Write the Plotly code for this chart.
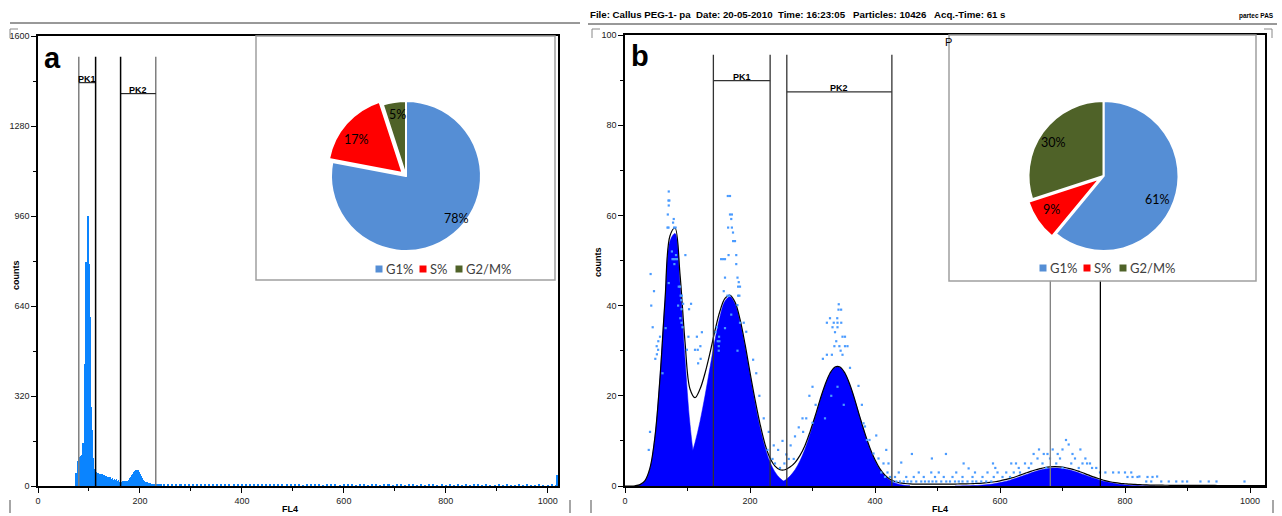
import plotly.graph_objects as go

W, H = 1282, 516

# ---------------- Panel a : histogram (FL4 channels) ----------------
a_core_start = 70      # first bin centre
a_core_width = 2       # channel bin width
a_core_counts = [0, 0, 45, 0, 90, 95, 102, 108, 110, 152, 122, 434, 796, 0, 960, 789, 601, 281, 199, 100,
                 60, 57, 50, 44, 48, 40, 43, 36, 41, 34, 38, 31, 36, 29, 33, 27, 31, 25, 29, 22,
                 26, 20, 24, 18, 22, 16, 20, 14, 18, 13, 17, 15, 19, 16, 23, 27, 33, 38, 44, 50,
                 54, 57, 53, 56, 49, 44, 37, 30, 23, 18, 14, 11, 13, 9, 8, 10, 7, 6, 8, 5,
                 7, 4, 6, 4, 5, 3, 5]
a_tail_start = 248
a_tail_width = 8
a_tail_counts = [7, 8, 6, 7, 8, 6, 7, 5, 7, 6, 8, 5, 6, 7, 5, 6, 5, 7, 4, 6,
                 5, 6, 4, 5, 6, 4, 5, 5, 4, 6, 4, 5, 4, 5, 3, 5, 4, 4, 5, 3,
                 4, 5, 4, 3, 5, 4, 4, 3, 4, 5, 3, 4, 4, 3, 5, 4, 3, 4, 4, 3,
                 4, 5, 3, 4, 3, 4, 4, 3, 4, 3, 5, 3, 4, 3, 4, 3, 4, 4, 3, 4,
                 3, 3, 4, 3, 4, 3, 3, 4, 3, 4, 3, 3, 4, 3, 3, 4, 3]
a_edge_channel = [1019]
a_edge_count = [40]

a_y_ticks = [0, 320, 640, 960, 1280, 1600]
x_ticks = [0, 200, 400, 600, 800, 1000]

# gates (left, right, bar level, label)
a_gates = [(80, 113, 1434, "PK1"), (162, 231, 1395, "PK2")]
a_gate_top = 1526

# ---------------- Panel b : fitted DNA histogram ----------------
b_step = 8
g1_start, g1_fill = 16, [0.04, 0.2, 1.1, 3.9, 11.0, 24.1, 41.0, 54.3, 56.0, 45.0, 28.2, 13.7, 5.2, 1.5, 0.35, 0.07]
pk1_start, pk1_fill = 64, [0.24, 0.51, 1.04, 2.0, 3.6, 6.0, 9.6, 14.3, 20.0, 26.3, 32.4, 37.6, 41.0, 42.0,
                           40.4, 36.5, 31.0, 24.7, 18.5, 13.0, 8.6, 5.3, 3.1, 1.7, 0.88, 0.43, 0.2, 0.08]
pk2_start, pk2_fill = 232, [0.17, 0.35, 0.68, 1.25, 2.2, 3.6, 5.6, 8.2, 11.5, 15.1, 18.9, 22.3, 24.9, 26.3,
                            26.3, 24.9, 22.3, 18.9, 15.1, 11.5, 8.2, 5.6, 3.6, 2.2, 1.25, 0.68, 0.35, 0.17, 0.08]
g2_start, g2_fill = 528, [0.015, 0.027, 0.044, 0.073, 0.11, 0.18, 0.26, 0.38, 0.54, 0.75, 1.0, 1.3, 1.64,
                          2.03, 2.43, 2.83, 3.2, 3.53, 3.78, 3.94, 4.0, 3.94, 3.78, 3.53, 3.2, 2.83, 2.43,
                          2.03, 1.64, 1.3, 1.0, 0.75, 0.54, 0.38, 0.26, 0.18, 0.11, 0.073, 0.044, 0.027, 0.015]
fit_start, fit_curve = 0, [0, 0, 0.05, 0.3, 1.2, 4.0, 11.0, 24.0, 41.2, 55.5, 57.2, 47.0, 32.0, 21.5, 19.6,
                           21.5, 25.0, 29.5, 34.5, 38.8, 41.6, 42.3, 40.8, 37.0, 31.5, 25.2, 19.2, 13.8, 9.3,
                           6.2, 4.4, 3.6, 3.6, 4.2, 5.2, 6.8, 9.0, 12.0, 15.4, 19.1, 22.4, 25.0, 26.4, 26.4,
                           25.0, 22.4, 19.0, 15.2, 11.6, 8.4, 5.8, 3.8, 2.4, 1.5, 1.0, 0.7, 0.55, 0.45, 0.4,
                           0.4, 0.4, 0.4, 0.4, 0.4, 0.4, 0.42, 0.43, 0.45, 0.47, 0.5, 0.55, 0.6, 0.68, 0.8,
                           0.95, 1.15, 1.4, 1.7, 2.0, 2.4, 2.8, 3.2, 3.55, 3.85, 4.1, 4.25, 4.3, 4.25, 4.1,
                           3.85, 3.55, 3.15, 2.75, 2.3, 1.9, 1.55, 1.2, 0.95, 0.75, 0.6, 0.5, 0.4, 0.35, 0.3,
                           0.25, 0.2, 0.2, 0.18, 0.17, 0.16, 0.15, 0.15, 0.14, 0.14, 0.13, 0.13, 0.12, 0.12,
                           0.12, 0.11, 0.11, 0.11, 0.1, 0.1, 0.1, 0.1, 0.1, 0.1, 0.1]

# raw channel counts (scattered dots)
dots_x = [70, 69.5, 71, 70, 68.5, 78, 76.9, 68, 69.6, 78.5, 81, 76, 78, 80.5, 83, 81.6, 96.6, 79,
          46.4, 44.3, 41, 42, 86, 88, 89, 91, 90, 93, 105.7, 102.5, 90.5, 88.5, 90.5, 92,
          53, 51, 48.5, 56, 53.3, 50.7, 101.5, 115, 123, 120.6, 116.4, 99, 112, 121, 117, 40, 38,
          60, 65, 70, 75, 85, 150, 160, 170, 180, 330, 340, 350, 320,
          164.5, 168, 168, 171, 170, 165, 171, 172.8, 173, 176, 153.8, 157, 160, 165.7, 178, 178,
          160, 180, 182, 181, 184, 181, 183, 164, 167, 158, 179.9, 184, 194, 150.5, 148.4, 151, 150,
          190, 147, 145,
          205, 210, 215, 222, 230, 238, 245, 252, 258, 265, 272, 278, 284, 262, 240, 248, 255, 270, 228, 236,
          342, 341.6, 345.8, 328, 339.6, 323, 334, 340, 346, 332, 340, 336, 338, 348, 352, 335, 343, 352, 356, 345,
          316.6, 323, 331, 348, 360, 373.6, 379, 381.6, 384, 387, 391.2, 402, 397.6, 405.6, 418, 421.6, 413.6,
          442, 459, 491, 513.5, 541.8, 549.8, 588.8, 592.5, 618, 625.6, 653.8, 662.4, 684.3, 692.3, 705.6,
          709.9, 728.6, 736.6, 739.3, 747.3, 768.6, 781, 823, 851.4, 899.4, 920.7, 934, 946.4, 991.2,
          295, 300, 305, 290, 285, 300,
          630, 640, 646, 660, 668, 674, 680, 690, 696, 700, 714, 720, 726, 732, 744, 754, 760, 670, 676, 700, 716, 650,
          428, 434, 440, 446, 452, 458, 466, 474, 480, 486, 492, 498, 506, 514, 520, 528, 534, 540, 548, 556,
          562, 570, 578, 586, 834, 842, 858, 870, 882, 892,
          416, 424, 432, 450, 462, 478, 496, 510, 524, 540, 556, 572, 590, 604, 616, 804, 812, 820, 836, 844,
          410, 420, 438, 470, 490, 502, 530, 560, 580, 596, 610, 622, 632, 790, 800, 810]
dots_y = [65.3, 63.3, 63.3, 62.2, 60.2, 59.2, 58.4, 57.3, 57.3, 57.3, 57.3, 50.3, 50.3, 50.3, 50.3, 51.2, 51.2, 49.2,
          43.2, 35.2, 47, 40, 44.2, 44.2, 42.2, 42.2, 41.2, 40.4, 40.4, 39.2, 39.2, 37.2, 36.2, 35.2,
          30.2, 29.2, 28.2, 33.1, 32.1, 31.0, 33.1, 33.1, 34.1, 31.0, 30.2, 30.2, 30.2, 28.2, 27.2, 12, 8,
          25, 35, 45, 52, 40, 30, 35, 38, 30, 20, 22, 18, 15,
          64.3, 64.3, 60.2, 60.2, 59.2, 57.3, 57.3, 56.2, 54.3, 54.3, 50.3, 50.3, 50.3, 51.2, 51.2, 49.2,
          46.2, 46.2, 45.2, 44.2, 44.2, 42.2, 42.2, 42.2, 42.2, 43.2, 40.1, 36.2, 34.2, 33.1, 32.1, 32.1, 31.0,
          36.2, 35.2, 34.1,
          28, 25, 20, 15, 12, 9, 8, 10, 7, 9, 11, 13, 15, 6, 5, 4, 5, 6, 8, 6,
          40.3, 39.1, 39.1, 37.2, 37.2, 36.2, 36.2, 36.2, 36.2, 35.2, 35.2, 34.1, 32.1, 33.1, 33.1, 31, 31, 31, 31, 30,
          28.2, 29.1, 29.1, 29.1, 26.2, 22.2, 18.0, 13.9, 13.2, 10.2, 10.2, 11.2, 7.2, 6.1, 8.0, 5.0, 5.0,
          5.2, 7.1, 6.1, 7.1, 5.0, 3.9, 5.0, 4.0, 5.0, 5.0, 7.1, 8.1, 8.1, 7.1, 10.2,
          9.2, 8.1, 6.1, 5.0, 4.0, 3.0, 3.0, 2.1, 2.1, 1.0, 1.0, 1.0, 1.0, 1.0,
          20, 22, 18, 15, 12, 14,
          4.0, 5.0, 4.0, 6.1, 5.0, 4.0, 6.1, 5.0, 6.1, 4.0, 5.0, 6.1, 4.0, 5.0, 5.0, 4.0, 3.0, 7.1, 7.1, 8.1, 7.1, 5.0,
          1, 1, 1, 1, 1, 1, 1, 1, 1, 1, 1, 1, 1, 1, 1, 1, 1, 1, 1, 1,
          1, 1, 1, 1, 1, 1, 1, 1, 1, 1,
          2, 2, 2, 2, 2, 2, 2, 2, 2, 2, 2, 2, 2, 2, 2, 2, 2, 2, 2, 2,
          3, 3, 3, 3, 3, 3, 3, 3, 3, 3, 3, 3, 3, 3, 3, 3]

b_y_ticks = [0, 20, 40, 60, 80, 100]
b_gates = [(141.4, 232.2, 89.9, "PK1"), (258.9, 427.0, 87.4, "PK2")]
b_gate_top = 95.6
b_gate3 = [680.5, 760.6]
b_gate3_top = 45.5

# ---------------- Pie insets ----------------
pie_labels = ["G1%", "S%", "G2/M%"]
pie_colors = ["#558ED5", "#FF0000", "#4F6228"]
pie_a = [78, 17, 5]
pie_b = [61, 9, 30]

header_text = "File: Callus PEG-1- pa  Date: 20-05-2010  Time: 16:23:05   Particles: 10426   Acq.-Time: 61 s"

# ---------------- helpers ----------------
def fx(p):
    return p / W

def fy(p):
    return 1 - p / H

NARROW = "Liberation Sans, Arial, sans-serif"
CAL = "Lato, Carlito, Calibri, Open Sans, sans-serif"

fig = go.Figure()

# panel a bars
ax_core = [a_core_start + a_core_width * i for i in range(len(a_core_counts))]
ax_tail = [a_tail_start + a_tail_width * i for i in range(len(a_tail_counts))]
fig.add_trace(go.Bar(x=ax_core, y=a_core_counts, width=1.6, marker=dict(color="#0A84FF", line=dict(width=0)),
                     xaxis="x", yaxis="y", hoverinfo="skip", showlegend=False))
fig.add_trace(go.Bar(x=ax_tail, y=a_tail_counts, width=3, marker=dict(color="#0A84FF", line=dict(width=0)),
                     xaxis="x", yaxis="y", hoverinfo="skip", showlegend=False))
fig.add_trace(go.Bar(x=a_edge_channel, y=a_edge_count, width=2.5, marker=dict(color="#0A84FF", line=dict(width=0)),
                     xaxis="x", yaxis="y", hoverinfo="skip", showlegend=False))

# panel b fills
def comp(start, vals):
    return [start + b_step * i for i in range(len(vals))], vals

for st, vals in [(g1_start, g1_fill), (pk1_start, pk1_fill), (pk2_start, pk2_fill), (g2_start, g2_fill)]:
    xs, ys = comp(st, vals)
    fig.add_trace(go.Scatter(x=xs, y=ys, mode="lines", fill="tozeroy", fillcolor="#0000FF",
                             line=dict(color="#0000FF", width=0.5, shape="spline"),
                             xaxis="x2", yaxis="y2", hoverinfo="skip", showlegend=False))

fxs, fys = comp(fit_start, fit_curve)
fig.add_trace(go.Scatter(x=fxs, y=fys, mode="lines", line=dict(color="black", width=1.2, shape="spline"),
                         xaxis="x2", yaxis="y2", hoverinfo="skip", showlegend=False))
fig.add_trace(go.Scatter(x=dots_x, y=dots_y, mode="markers",
                         marker=dict(symbol="square", size=2.2, color="#4A9BFF", line=dict(width=0)),
                         xaxis="x2", yaxis="y2", hoverinfo="skip", showlegend=False))

# pies
def pie_domain(cx, cy, side):
    return dict(x=[fx(cx - side / 2), fx(cx + side / 2)], y=[fy(cy + side / 2), fy(cy - side / 2)])

for vals, (cx, cy) in [(pie_a, (406, 176)), (pie_b, (1103.5, 176))]:
    fig.add_trace(go.Pie(values=vals, labels=pie_labels, sort=False, direction="clockwise", rotation=0,
                         marker=dict(colors=pie_colors, line=dict(color="white", width=2)),
                         pull=[0, 0.06, 0], textinfo="none", hoverinfo="skip", showlegend=False,
                         domain=pie_domain(cx, cy, 159)))

tickfont = dict(family=NARROW, size=9, color="#222")
common_x = dict(showline=True, mirror=True, linecolor="black", linewidth=1.5, ticks="outside", ticklen=5,
                tickwidth=1, tickcolor="black", showgrid=False, zeroline=False, tickfont=tickfont,
                automargin=False,
                tickvals=x_ticks, minor=dict(tickvals=[100, 300, 500, 700, 900], ticks="outside", ticklen=3,
                                             tickcolor="black"))
common_y = dict(showline=True, mirror=True, linecolor="black", linewidth=1.5, ticks="outside", ticklen=5,
                tickwidth=1, tickcolor="black", showgrid=False, zeroline=False, tickfont=tickfont,
                automargin=False)
fig.update_layout(
    width=W, height=H, margin=dict(l=0, r=0, t=0, b=0, pad=0, autoexpand=False),
    paper_bgcolor="white", plot_bgcolor="white", bargap=0,
    xaxis=dict(domain=[fx(38), fx(558)], range=[0, 1020], anchor="y", **common_x),
    yaxis=dict(domain=[fy(486), fy(36)], range=[0, 1600], anchor="x", tickvals=a_y_ticks,
               minor=dict(tickvals=[160, 480, 800, 1120, 1440], ticks="outside", ticklen=3, tickcolor="black"),
               **common_y),
    xaxis2=dict(domain=[fx(625), fx(1265)], range=[0, 1024], anchor="y2", **common_x),
    yaxis2=dict(domain=[fy(486), fy(35)], range=[0, 100], anchor="x2", tickvals=b_y_ticks,
                minor=dict(tickvals=[10, 30, 50, 70, 90], ticks="outside", ticklen=3, tickcolor="black"),
                **common_y),
)

shapes = []
ann = []

def note(x, y, text, size, family=NARROW, color="black", xanchor="center", yanchor="middle", angle=0):
    ann.append(dict(x=fx(x), y=fy(y), xref="paper", yref="paper", text=text, showarrow=False,
                    xanchor=xanchor, yanchor=yanchor, textangle=angle,
                    font=dict(family=family, size=size, color=color)))

# gates panel a
for i, (l, r, lvl, lab) in enumerate(a_gates):
    cl = "#7f7f7f" if i == 0 else "black"
    cr = "black" if i == 0 else "#7f7f7f"
    shapes.append(dict(type="line", xref="x", yref="y", x0=l, x1=l, y0=0, y1=a_gate_top, line=dict(color=cl, width=1.5)))
    shapes.append(dict(type="line", xref="x", yref="y", x0=r, x1=r, y0=0, y1=a_gate_top, line=dict(color=cr, width=1.5)))
    shapes.append(dict(type="line", xref="x", yref="y", x0=l, x1=r, y0=lvl, y1=lvl, line=dict(color="black", width=1)))
    ann.append(dict(x=(l + r) / 2, y=lvl, xref="x", yref="y", text="<b>" + lab + "</b>", showarrow=False,
                    xanchor="center", yanchor="bottom", yshift=-3, font=dict(family=NARROW, size=9, color="black")))

# gates panel b
for i, (l, r, lvl, lab) in enumerate(b_gates):
    shapes.append(dict(type="line", xref="x2", yref="y2", x0=l, x1=l, y0=0, y1=b_gate_top, line=dict(color="#333", width=1.3)))
    shapes.append(dict(type="line", xref="x2", yref="y2", x0=r, x1=r, y0=0, y1=b_gate_top, line=dict(color="#333", width=1.3)))
    shapes.append(dict(type="line", xref="x2", yref="y2", x0=l, x1=r, y0=lvl, y1=lvl, line=dict(color="#333", width=1.3)))
    ann.append(dict(x=(l + r) / 2, y=lvl, xref="x2", yref="y2", text="<b>" + lab + "</b>", showarrow=False,
                    xanchor="center", yanchor="bottom", yshift=-3, font=dict(family=NARROW, size=9, color="black")))
for i, gx in enumerate(b_gate3):
    shapes.append(dict(type="line", xref="x2", yref="y2", x0=gx, x1=gx, y0=0, y1=b_gate3_top,
                       line=dict(color="#7f7f7f" if i == 0 else "black", width=1.3)))
note(943, 42, "P", 11, xanchor="left")

# pie boxes
shapes.append(dict(type="rect", xref="paper", yref="paper", x0=fx(256), x1=fx(555), y0=fy(280), y1=fy(36),
                   line=dict(color="#A0A0A0", width=1.5), fillcolor="rgba(0,0,0,0)"))
shapes.append(dict(type="rect", xref="paper", yref="paper", x0=fx(949), x1=fx(1256), y0=fy(281), y1=fy(35),
                   line=dict(color="#A0A0A0", width=1.5), fillcolor="rgba(0,0,0,0)"))

# pie percentage labels
for (t, x, y) in [("78%", 456, 218), ("17%", 356, 139), ("5%", 397, 115),
                  ("61%", 1157, 199), ("9%", 1051, 209), ("30%", 1053, 142)]:
    note(x, y, t, 12.5, family=CAL)

# pie legends
for (x0, y0) in [(379, 269), (1043, 268)]:
    offs = [(0, "G1%"), (44, "S%"), (80, "G2/M%")]
    for k, (dx, lab) in enumerate(offs):
        sx = x0 + dx
        shapes.append(dict(type="rect", xref="paper", yref="paper", x0=fx(sx - 3.5), x1=fx(sx + 3.5),
                           y0=fy(y0 + 3.5), y1=fy(y0 - 3.5), line=dict(width=0), fillcolor=pie_colors[k]))
        note(sx + 5, y0, lab, 13, family=CAL, color="#404040", xanchor="left")

# panel letters
note(52, 58, "<b>a</b>", 29, family="Liberation Sans, Arial, sans-serif")
note(640, 56, "<b>b</b>", 29, family="Liberation Sans, Arial, sans-serif")

# axis titles
note(16, 275, "<b>counts</b>", 9, angle=-90)
note(598, 262, "<b>counts</b>", 9, angle=-90)
note(290, 509, "<b>FL4</b>", 9)
note(940, 509, "<b>FL4</b>", 9)

# header
note(588, 14, "<b>" + header_text + "</b>", 9.7, xanchor="left")
note(1276, 16, "<b>partec PAS</b>", 6.5, xanchor="right")

# header rules and corner marks
shapes.append(dict(type="line", xref="paper", yref="paper", x0=fx(10), x1=fx(580), y0=fy(23), y1=fy(23),
                   line=dict(color="#333", width=1)))
shapes.append(dict(type="line", xref="paper", yref="paper", x0=fx(588), x1=fx(1277), y0=fy(24), y1=fy(24),
                   line=dict(color="#333", width=1)))
for (x, y, dx) in [(10, 29, 1), (592, 30, 1), (1272, 30, -1)]:
    shapes.append(dict(type="line", xref="paper", yref="paper", x0=fx(x), x1=fx(x), y0=fy(29), y1=fy(38),
                       line=dict(color="#888", width=1)))
    shapes.append(dict(type="line", xref="paper", yref="paper", x0=fx(x), x1=fx(x + 8 * dx), y0=fy(29), y1=fy(29),
                       line=dict(color="#888", width=1)))
for x in [10, 570, 591, 1273]:
    shapes.append(dict(type="line", xref="paper", yref="paper", x0=fx(x), x1=fx(x), y0=fy(500), y1=fy(513),
                       line=dict(color="#888", width=1.5)))

fig.update_layout(shapes=shapes, annotations=ann)
fig.write_html("out.html", config={"displayModeBar": False},
               post_script="document.body.style.margin='0';document.body.style.overflow='hidden';")
